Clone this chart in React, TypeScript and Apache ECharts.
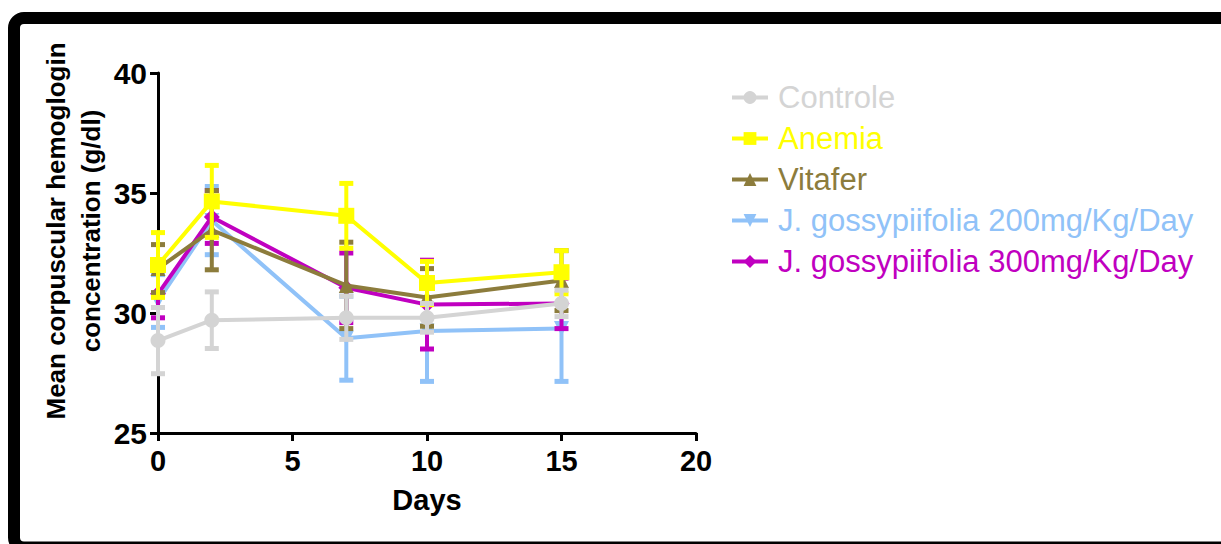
import React, { useEffect, useRef } from "react";
import * as echarts from "echarts";

const days = [0, 2, 7, 10, 15];
const groupNames = [
  "Controle",
  "Anemia",
  "Vitafer",
  "J. gossypiifolia 200mg/Kg/Day",
  "J. gossypiifolia 300mg/Kg/Day",
];
const controleMean = [28.85, 29.7, 29.8, 29.8, 30.4];
const controleErr = [1.38, 1.18, 0.9, 0.6, 0.55];
const anemiaMean = [32.0, 34.65, 34.05, 31.25, 31.7];
const anemiaErr = [1.35, 1.5, 1.35, 0.9, 0.9];
const vitaferMean = [31.85, 33.45, 31.15, 30.65, 31.35];
const vitaferErr = [1.0, 1.65, 1.8, 1.2, 1.25];
const jg200Mean = [30.5, 33.85, 28.95, 29.25, 29.35];
const jg200Err = [1.1, 1.42, 1.75, 2.1, 2.2];
const jg300Mean = [30.8, 34.0, 31.05, 30.35, 30.4];
const jg300Err = [1.0, 1.1, 1.45, 1.85, 1.05];
const xTicks = { min: 0, max: 20, interval: 5 };
const yTicks = { min: 25, max: 40, interval: 5 };

const groups = [
  { name: groupNames[0], mean: controleMean, err: controleErr, color: "#D4D4D4", symbol: "circle", rotate: 0, size: 15, z: 6 },
  { name: groupNames[1], mean: anemiaMean, err: anemiaErr, color: "#FFFF00", symbol: "rect", rotate: 0, size: 16, z: 5 },
  { name: groupNames[2], mean: vitaferMean, err: vitaferErr, color: "#8C7C3C", symbol: "triangle", rotate: 0, size: 15, z: 4 },
  { name: groupNames[3], mean: jg200Mean, err: jg200Err, color: "#90C2F8", symbol: "triangle", rotate: 180, size: 15, z: 2 },
  { name: groupNames[4], mean: jg300Mean, err: jg300Err, color: "#C000C0", symbol: "diamond", rotate: 0, size: 16, z: 3 },
];

const FONT = "'Liberation Sans', Arial, Helvetica, sans-serif";

function errorRenderer(color: string) {
  return (params: any, api: any) => {
    const x = api.value(0);
    const lo = api.value(1);
    const hi = api.value(2);
    const pHi = api.coord([x, hi]);
    const pLo = api.coord([x, lo]);
    const cw = 7;
    const stem = { stroke: color, lineWidth: 4 };
    const cap = { stroke: color, lineWidth: 5 };
    return {
      type: "group",
      children: [
        { type: "line", shape: { x1: pHi[0], y1: pHi[1], x2: pLo[0], y2: pLo[1] }, style: stem },
        { type: "line", shape: { x1: pHi[0] - cw, y1: pHi[1], x2: pHi[0] + cw, y2: pHi[1] }, style: cap },
        { type: "line", shape: { x1: pLo[0] - cw, y1: pLo[1], x2: pLo[0] + cw, y2: pLo[1] }, style: cap },
      ],
    };
  };
}

export default function App() {
  const ref = useRef<HTMLDivElement>(null);
  useEffect(() => {
    if (!ref.current) return;
    const chart = echarts.init(ref.current, null, { renderer: "svg" });
    const series: any[] = [];
    groups.forEach((g) => {
      series.push({
        type: "custom",
        name: g.name + " SD",
        z: g.z,
        renderItem: errorRenderer(g.color),
        data: days.map((d, i) => [d, g.mean[i] - g.err[i], g.mean[i] + g.err[i]]),
        silent: true,
      });
      series.push({
        type: "line",
        name: g.name,
        z: g.z,
        data: days.map((d, i) => [d, g.mean[i]]),
        symbol: g.symbol,
        symbolRotate: g.rotate,
        symbolSize: g.size,
        showAllSymbol: true,
        lineStyle: { color: g.color, width: 4 },
        itemStyle: { color: g.color, borderWidth: 0 },
      });
    });
    const legendCenters = [98, 139, 180, 221, 262];
    const legends = groups.map((g, i) => ({
      left: 730,
      top: legendCenters[i] - 16,
      orient: "vertical",
      padding: 0,
      itemWidth: 36,
      itemHeight: 16,
      selectedMode: false,
      lineStyle: { width: 4 },
      data: [{ name: g.name, textStyle: { color: g.color } }],
      textStyle: { fontSize: 31, fontFamily: FONT, padding: [0, 0, 0, 5] },
    }));
    chart.setOption({
      animation: false,
      backgroundColor: "#fff",
      grid: { left: 158, top: 73, width: 538, height: 360 },
      legend: legends,
      xAxis: {
        type: "value",
        min: xTicks.min,
        max: xTicks.max,
        interval: xTicks.interval,
        name: "Days",
        nameLocation: "middle",
        nameGap: 52,
        nameTextStyle: { fontSize: 29, fontWeight: "bold", fontFamily: FONT, color: "#000" },
        axisLine: { lineStyle: { color: "#000", width: 3 } },
        axisTick: { length: 8, lineStyle: { color: "#000", width: 3 } },
        axisLabel: { fontSize: 29, fontWeight: "bold", fontFamily: FONT, color: "#000", margin: 13 },
        splitLine: { show: false },
      },
      yAxis: {
        type: "value",
        min: yTicks.min,
        max: yTicks.max,
        interval: yTicks.interval,
        axisLine: { show: true, lineStyle: { color: "#000", width: 3 } },
        axisTick: { show: true, length: 8, lineStyle: { color: "#000", width: 3 } },
        axisLabel: { fontSize: 30, fontWeight: "bold", fontFamily: FONT, color: "#000", margin: 11 },
        splitLine: { show: false },
      },
      graphic: [
        {
          type: "rect",
          z: -10,
          silent: true,
          shape: { x: 14, y: 18, width: 1240, height: 529.5, r: 10 },
          style: { fill: "none", stroke: "#000", lineWidth: 12 },
        },
        {
          type: "text",
          x: 73,
          y: 231,
          rotation: Math.PI / 2,
          silent: true,
          style: {
            text: "Mean corpuscular hemoglogin\nconcentration (g/dl)",
            fontSize: 26,
            fontWeight: "bold",
            fontFamily: FONT,
            lineHeight: 35,
            fill: "#000",
            align: "center",
            verticalAlign: "middle",
          },
        },
      ],
      series,
    });
    return () => chart.dispose();
  }, []);
  return (
    <div
      ref={ref}
      style={{ position: "fixed", left: 0, top: 0, width: 1221, height: 544 }}
    />
  );
}
